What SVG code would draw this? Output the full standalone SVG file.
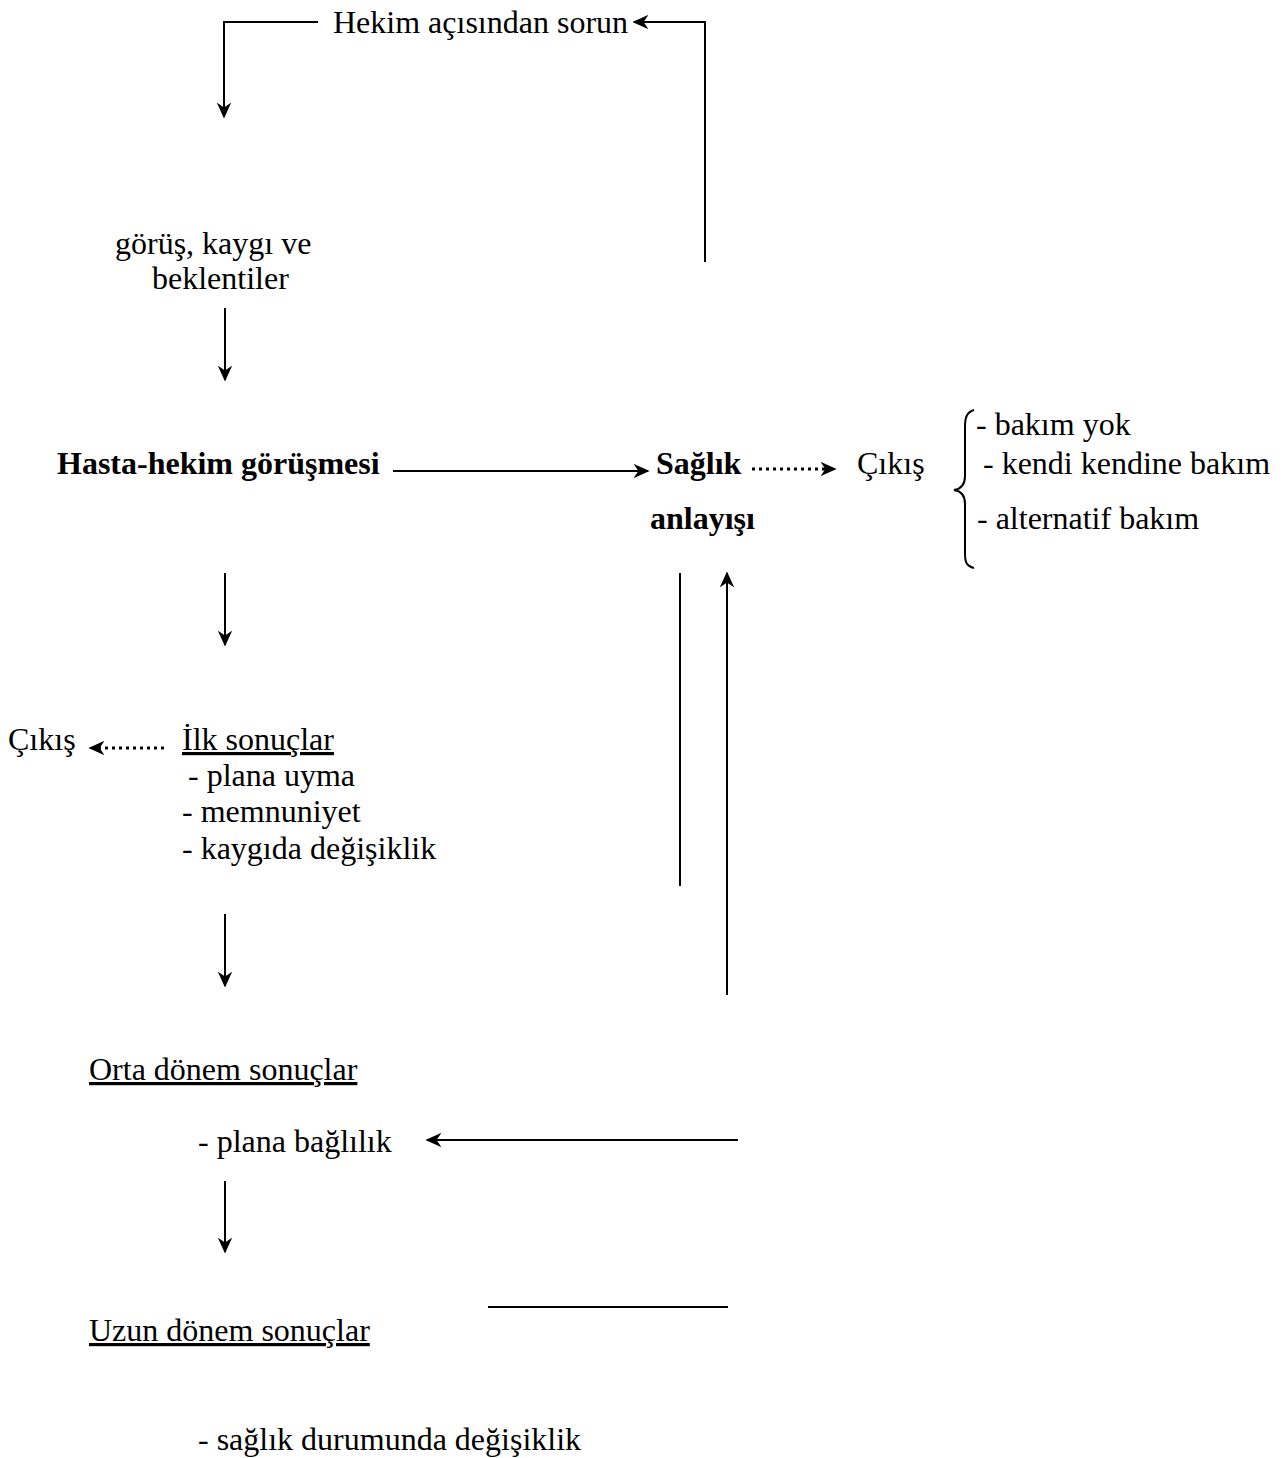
<svg xmlns="http://www.w3.org/2000/svg" width="1287" height="1458" viewBox="0 0 1287 1458">
<style>
.b{font-weight:bold}
.u{text-decoration:underline}
.ln{stroke:#000;stroke-width:2;fill:none}
.dot{stroke:#000;stroke-width:3.2;fill:none;stroke-dasharray:3 4}
</style>
<defs>
<marker id="ah" viewBox="0 0 10 10" refX="9" refY="5" markerWidth="16" markerHeight="16" markerUnits="userSpaceOnUse" orient="auto">
<path d="M0,0.5 L10,5 L0,9.5 L3,5 Z" fill="#000"/>
</marker>
</defs>
<rect width="1287" height="1458" fill="#fff"/>
<g id="connectors">
<path class="ln" d="M318,22 H224 V117" marker-end="url(#ah)"/>
<path class="ln" d="M705,262 V22 H634" marker-end="url(#ah)"/>
<path class="ln" d="M225,308 V380" marker-end="url(#ah)"/>
<path class="ln" d="M393,471 H648" marker-end="url(#ah)"/>
<path class="dot" d="M752,469 H830"/>
<path class="ln" d="M825,469 H835" marker-end="url(#ah)"/>
<path class="ln" d="M225,573 V645" marker-end="url(#ah)"/>
<path class="dot" d="M164,748 H98"/>
<path class="ln" d="M100,748 H90" marker-end="url(#ah)"/>
<path class="ln" d="M680,573 V886"/>
<path class="ln" d="M727,995 V573" marker-end="url(#ah)"/>
<path class="ln" d="M225,914 V986" marker-end="url(#ah)"/>
<path class="ln" d="M738,1140 H427" marker-end="url(#ah)"/>
<path class="ln" d="M225,1181 V1252" marker-end="url(#ah)"/>
<path class="ln" d="M488,1307 H728"/>
<path class="ln" d="M974,410 C967,412 965,417 965,427 V476 C965,485 961,489 954,490 C961,491 965,495 965,504 V554 C965,563 967,566 974,568"/>
</g>
<g font-family="Liberation Serif, Times New Roman, serif" font-size="32" fill="#000">
<g id="n-hekim"><text x="333" y="33">Hekim açısından sorun</text></g>
<g id="n-gorus"><text x="115" y="254">görüş, kaygı ve</text><text x="152" y="289">beklentiler</text></g>
<g id="n-hasta"><text class="b" x="57" y="474">Hasta-hekim görüşmesi</text></g>
<g id="n-saglik"><text class="b" x="656" y="474">Sağlık</text><text class="b" x="650" y="529">anlayışı</text></g>
<g id="n-cikis1"><text x="857" y="474">Çıkış</text></g>
<g id="n-bakim"><text x="976" y="435">- bakım yok</text><text x="983" y="474">- kendi kendine bakım</text><text x="977" y="529">- alternatif bakım</text></g>
<g id="n-cikis2"><text x="8" y="750">Çıkış</text></g>
<g id="n-ilk"><text class="u" x="182" y="750">İlk sonuçlar</text><text x="188" y="786">- plana uyma</text><text x="182" y="822">- memnuniyet</text><text x="182" y="859">- kaygıda değişiklik</text></g>
<g id="n-orta"><text class="u" x="89" y="1080">Orta dönem sonuçlar</text></g>
<g id="n-bag"><text x="198" y="1152">- plana bağlılık</text></g>
<g id="n-uzun"><text class="u" x="89" y="1341">Uzun dönem sonuçlar</text></g>
<g id="n-durum"><text x="198" y="1450">- sağlık durumunda değişiklik</text></g>
</g>
</svg>
